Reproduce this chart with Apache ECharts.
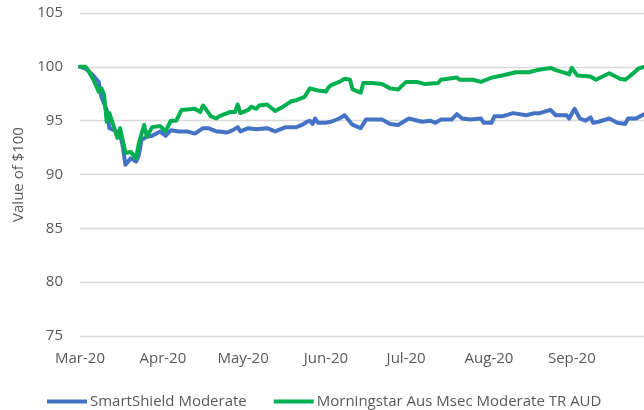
<!DOCTYPE html>
<html>
<head>
<meta charset="utf-8">
<script src="https://cdn.jsdelivr.net/npm/echarts@6/dist/echarts.min.js"></script>
<style>
  html, body { margin: 0; padding: 0; background: #fff; }
  #chart { width: 644px; height: 410px; }
</style>
</head>
<body>
<div id="chart"></div>
<script>
// x positions are days counted from 1 Mar 2020
const monthDays = [0, 31, 61, 92, 122, 153, 184]
const monthLabels = ['Mar-20', 'Apr-20', 'May-20', 'Jun-20', 'Jul-20', 'Aug-20', 'Sep-20']
const yTicks = [75, 80, 85, 90, 95, 100, 105]

const smartDays = [0, 2, 5, 7, 8, 10, 11, 13, 15, 16, 17, 19, 21, 22, 23, 25, 27, 30, 32, 34, 37, 40, 43, 46, 48, 51, 52, 55, 57, 59, 60, 63, 66, 70, 73, 77, 81, 83, 85, 86, 87, 88, 89, 92, 94, 97, 99, 102, 105, 107, 113, 116, 119, 123, 128, 131, 133, 135, 139, 141, 143, 146, 150, 151, 154, 155, 158, 162, 167, 170, 172, 176, 178, 182, 183, 185, 187, 189, 191, 192, 194, 198, 201, 204, 205, 208, 211]
const smartValues = [100, 99.85, 99.2, 98.6, 97.2, 96.0, 94.3, 94.1, 93.8, 92.6, 90.9, 91.5, 91.2, 91.8, 93.2, 93.5, 93.6, 94.0, 93.6, 94.1, 94.0, 94.0, 93.8, 94.3, 94.3, 94.0, 94.0, 93.9, 94.1, 94.4, 94.0, 94.3, 94.2, 94.3, 94.0, 94.4, 94.4, 94.6, 94.9, 95.0, 94.7, 95.2, 94.8, 94.8, 94.9, 95.2, 95.5, 94.6, 94.3, 95.1, 95.1, 94.7, 94.6, 95.2, 94.9, 95.0, 94.8, 95.1, 95.1, 95.6, 95.2, 95.1, 95.2, 94.8, 94.8, 95.4, 95.4, 95.7, 95.5, 95.7, 95.7, 96.0, 95.5, 95.5, 95.2, 96.1, 95.2, 95.0, 95.3, 94.8, 94.9, 95.2, 94.8, 94.7, 95.2, 95.2, 95.6]

const msDays = [0, 2, 3, 5, 7, 8, 9, 10, 11, 14, 15, 17, 19, 21, 22, 24, 25, 27, 30, 32, 34, 36, 38, 43, 45, 46, 47, 49, 51, 52, 56, 58, 59, 60, 63, 64, 66, 67, 70, 73, 76, 79, 81, 84, 86, 89, 92, 93, 94, 97, 99, 101, 102, 105, 106, 109, 113, 116, 119, 122, 126, 129, 134, 135, 141, 142, 147, 150, 152, 154, 158, 163, 168, 171, 176, 178, 182, 183, 184, 186, 191, 193, 198, 202, 204, 206, 209, 211]
const msValues = [100, 100, 99.7, 98.8, 97.7, 98.0, 97.4, 94.9, 95.7, 93.4, 94.3, 92.0, 92.1, 91.5, 92.9, 94.6, 93.5, 94.4, 94.5, 94.0, 95.0, 95.0, 96.0, 96.1, 95.8, 96.4, 96.1, 95.4, 95.2, 95.4, 95.8, 95.8, 96.5, 95.7, 96.0, 96.3, 96.1, 96.4, 96.5, 95.9, 96.3, 96.8, 96.9, 97.2, 98.0, 97.8, 97.7, 98.1, 98.3, 98.6, 98.9, 98.8, 97.9, 97.6, 98.5, 98.5, 98.4, 98.0, 97.9, 98.6, 98.6, 98.4, 98.5, 98.8, 99.0, 98.8, 98.8, 98.6, 98.8, 99.0, 99.2, 99.5, 99.5, 99.7, 99.9, 99.7, 99.4, 99.3, 99.9, 99.2, 99.1, 98.8, 99.4, 98.9, 98.8, 99.2, 99.85, 100]

const textColor = '#595959'
const fontFamily = '"Open Sans", sans-serif'

const chart = echarts.init(document.getElementById('chart'))
chart.setOption({
  animation: false,
  textStyle: { fontFamily: fontFamily },
  grid: {
    left: 80,
    right: 0,
    top: 13,
    bottom: 74
  },
  legend: {
    left: 42,
    top: 389,
    icon: 'rect',
    itemWidth: 40,
    itemHeight: 4,
    itemGap: 27,
    textStyle: { fontSize: 15, color: textColor, fontFamily: fontFamily, padding: [0, 0, 0, -2] },
    data: ['SmartShield Moderate', 'Morningstar Aus Msec Moderate TR AUD']
  },
  xAxis: {
    type: 'value',
    min: 0,
    max: 211,
    axisLine: { show: false },
    axisTick: { show: false },
    splitLine: { show: false },
    axisLabel: {
      customValues: monthDays,
      margin: 15,
      fontSize: 15,
      color: textColor,
      formatter: function(value) {
        return monthLabels[monthDays.indexOf(value)]
      }
    }
  },
  yAxis: {
    type: 'value',
    min: yTicks[0],
    max: yTicks[yTicks.length - 1],
    interval: 5,
    name: 'Value of $100',
    nameLocation: 'middle',
    nameRotate: 90,
    nameGap: 54,
    nameTextStyle: { fontSize: 15, color: textColor },
    axisLine: { show: false },
    axisTick: { show: false },
    axisLabel: { margin: 17, fontSize: 15, color: textColor },
    splitLine: { lineStyle: { color: '#d9d9d9', width: 1.3 } }
  },
  series: [
    {
      name: 'SmartShield Moderate',
      type: 'line',
      showSymbol: false,
      color: '#4472C4',
      lineStyle: { width: 4, color: '#4472C4', cap: 'round', join: 'round' },
      data: smartDays.map((d, i) => [d, smartValues[i]])
    },
    {
      name: 'Morningstar Aus Msec Moderate TR AUD',
      type: 'line',
      showSymbol: false,
      color: '#00B050',
      lineStyle: { width: 4, color: '#00B050', cap: 'round', join: 'round' },
      data: msDays.map((d, i) => [d, msValues[i]])
    }
  ]
})
</script>
</body>
</html>
